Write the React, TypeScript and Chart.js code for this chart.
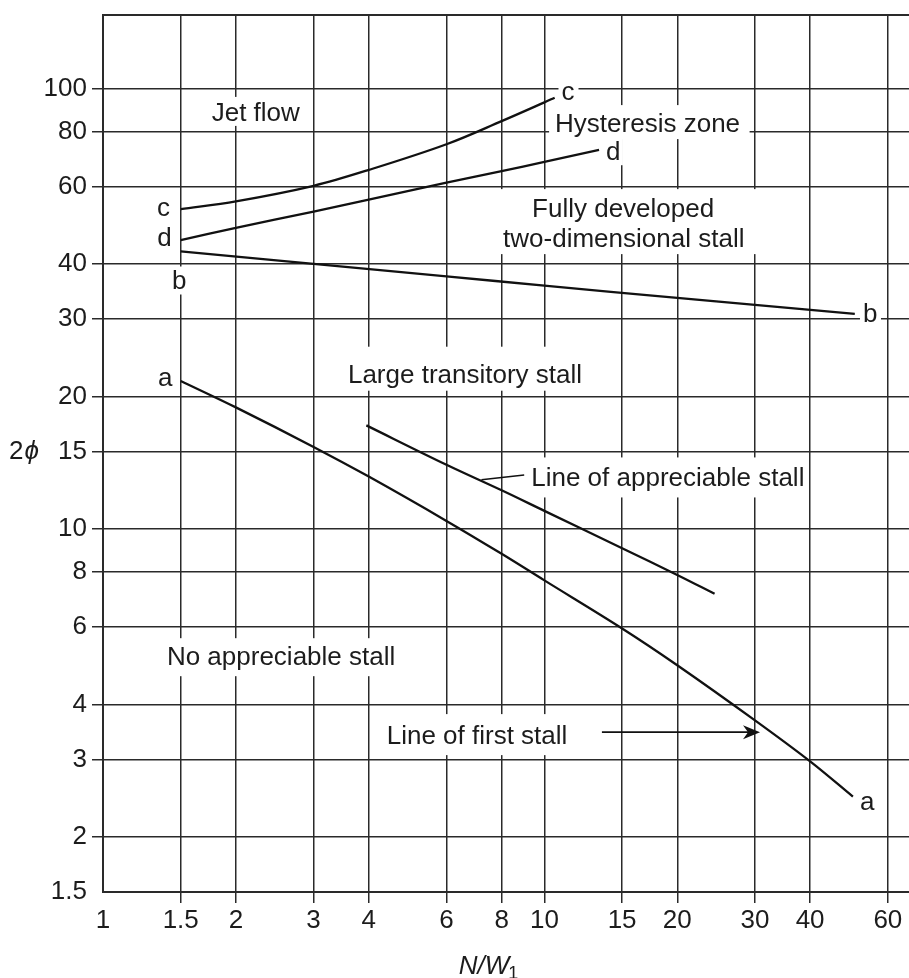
import React, { useEffect, useRef } from 'react';
import { Chart, registerables } from 'chart.js';

Chart.register(...registerables);

// Log-log paper: tick values on both axes
const xTickValues = [1, 1.5, 2, 3, 4, 6, 8, 10, 15, 20, 30, 40, 60];
const yTickValues = [1.5, 2, 3, 4, 6, 8, 10, 15, 20, 30, 40, 60, 80, 100];
const xRange = [1, 67];
const yRange = [1.5, 147];

// Line a-a: line of first stall
const curveAx = [1.5, 2, 3, 4, 6, 8, 10, 15, 20, 30, 40, 50];
const curveAy = [21.7, 18.9, 15.37, 13.16, 10.44, 8.79, 7.65, 5.95, 4.91, 3.68, 2.97, 2.47];
// Line b-b: onset of fully developed two-dimensional stall
const curveBx = [1.5, 3, 6, 10, 20, 30, 50.5];
const curveBy = [42.7, 40.0, 37.5, 35.7, 33.5, 32.3, 30.8];
// Line c-c: upper edge of the hysteresis zone
const curveCx = [1.5, 2, 3, 4, 6, 8, 10, 10.55];
const curveCy = [53.3, 55.5, 60.2, 65.4, 74.8, 84.4, 93.1, 95.4];
// Line d-d: lower edge of the hysteresis zone
const curveDx = [1.5, 2, 3, 4, 6, 8, 10, 13.3];
const curveDy = [45.3, 48.3, 52.6, 56.0, 61.2, 65.0, 68.2, 72.6];
// Line of appreciable stall
const appreciableX = [3.95, 6, 8, 10, 15, 20, 24.3];
const appreciableY = [17.2, 14.0, 12.25, 11.0, 9.05, 7.87, 7.13];

// Leader from the "Line of appreciable stall" caption to its curve
const leaderX = [7.2, 9.0];
const leaderY = [12.95, 13.27];
// Arrow from the "Line of first stall" caption to line a-a
const arrowX = [13.5, 30.8];
const arrowY = [3.46, 3.46];

// Region captions and curve letters: anchor = ink centre (x) and baseline (y), data units
type Note = { text: string; x: number; y: number; pad: number[] };
const LETTER_PAD = [4, 4, 4, 5];
const notes: Note[] = [
  { text: 'Jet flow', x: 2.22, y: 84.5, pad: [6, 6, 5, 5] },
  { text: 'Hysteresis zone', x: 17.2, y: 79.7, pad: [8, 10, 8, 2] },
  { text: 'Fully developed\ntwo-dimensional stall', x: 15.1, y: 51.1, pad: [4, 17, 9, 7] },
  { text: 'Large transitory stall', x: 6.63, y: 21.5, pad: [8, 8, 17, 3] },
  { text: 'Line of appreciable stall', x: 19.1, y: 12.5, pad: [5, 5, 10, 6] },
  { text: 'No appreciable stall', x: 2.54, y: 4.91, pad: [8, 8, 8, 6] },
  { text: 'Line of first stall', x: 7.06, y: 3.25, pad: [8, 8, 11, 11] },
  { text: 'c', x: 1.374, y: 51.3, pad: LETTER_PAD },
  { text: 'd', x: 1.377, y: 44.0, pad: LETTER_PAD },
  { text: 'b', x: 1.49, y: 35.0, pad: LETTER_PAD },
  { text: 'a', x: 1.39, y: 21.1, pad: LETTER_PAD },
  { text: 'c', x: 11.34, y: 94.4, pad: LETTER_PAD },
  { text: 'd', x: 14.3, y: 68.8, pad: LETTER_PAD },
  { text: 'b', x: 54.8, y: 29.5, pad: LETTER_PAD },
  { text: 'a', x: 54.1, y: 2.3, pad: LETTER_PAD },
];

const FONT_FAMILY = '"Liberation Sans", Arial, Helvetica, sans-serif';
const FONT_SIZE = 26;
const LINE_STEP = 30;
const TEXT_COLOR = '#1c1c1c';
const GRID_COLOR = '#2a2a2a';
const CURVE_COLOR = '#111111';

const paperPlugin = {
  id: 'paperAnnotations',
  beforeDatasetsDraw(chart: any) {
    const { ctx, chartArea, scales } = chart;
    const xs = scales.x;
    const ys = scales.y;
    ctx.save();
    // top edge of the frame
    ctx.strokeStyle = GRID_COLOR;
    ctx.lineWidth = 2;
    ctx.beginPath();
    ctx.moveTo(chartArea.left, chartArea.top);
    ctx.lineTo(chartArea.right, chartArea.top);
    ctx.stroke();

    ctx.font = `${FONT_SIZE}px ${FONT_FAMILY}`;
    ctx.textAlign = 'left';
    ctx.textBaseline = 'alphabetic';
    for (const n of notes) {
      const lines = n.text.split('\n');
      const cx = xs.getPixelForValue(n.x);
      const base = ys.getPixelForValue(n.y);
      let l = Infinity, r = -Infinity, t = Infinity, b = -Infinity;
      const placed = lines.map((ln, i) => {
        const m = ctx.measureText(ln);
        const lx = cx - (m.actualBoundingBoxRight - m.actualBoundingBoxLeft) / 2;
        const by = base + i * LINE_STEP;
        l = Math.min(l, lx - m.actualBoundingBoxLeft);
        r = Math.max(r, lx + m.actualBoundingBoxRight);
        t = Math.min(t, by - m.actualBoundingBoxAscent);
        b = Math.max(b, by + m.actualBoundingBoxDescent);
        return { ln, lx, by };
      });
      const [pl, pr, pt, pb] = n.pad;
      ctx.fillStyle = '#ffffff';
      ctx.fillRect(l - pl, t - pt, r - l + pl + pr, b - t + pt + pb);
      ctx.fillStyle = TEXT_COLOR;
      for (const p of placed) ctx.fillText(p.ln, p.lx, p.by);
    }
    ctx.restore();
  },
  afterDatasetsDraw(chart: any) {
    const { ctx, scales } = chart;
    const xs = scales.x;
    const ys = scales.y;
    ctx.save();
    ctx.strokeStyle = CURVE_COLOR;
    ctx.fillStyle = CURVE_COLOR;
    ctx.lineWidth = 1.6;
    // leader line
    ctx.beginPath();
    ctx.moveTo(xs.getPixelForValue(leaderX[0]), ys.getPixelForValue(leaderY[0]));
    ctx.lineTo(xs.getPixelForValue(leaderX[1]), ys.getPixelForValue(leaderY[1]));
    ctx.stroke();
    // arrow
    const ax0 = xs.getPixelForValue(arrowX[0]);
    const ax1 = xs.getPixelForValue(arrowX[1]);
    const ay0 = ys.getPixelForValue(arrowY[0]);
    const ay1 = ys.getPixelForValue(arrowY[1]);
    ctx.beginPath();
    ctx.moveTo(ax0, ay0);
    ctx.lineTo(ax1 - 11, ay1);
    ctx.stroke();
    ctx.beginPath();
    ctx.moveTo(ax1, ay1);
    ctx.lineTo(ax1 - 17, ay1 - 7);
    ctx.lineTo(ax1 - 12, ay1);
    ctx.lineTo(ax1 - 17, ay1 + 7);
    ctx.closePath();
    ctx.fill();
    ctx.restore();
  },
  afterDraw(chart: any) {
    const { ctx, chartArea, scales } = chart;
    const xs = scales.x;
    const ys = scales.y;
    ctx.save();
    ctx.fillStyle = TEXT_COLOR;
    ctx.textBaseline = 'middle';
    ctx.textAlign = 'left';
    // vertical axis title: 2ϕ
    const yt = ys.getPixelForValue(15);
    ctx.font = `${FONT_SIZE}px ${FONT_FAMILY}`;
    ctx.fillText('2', 9, yt);
    const w2 = ctx.measureText('2').width;
    ctx.font = `italic ${FONT_SIZE}px ${FONT_FAMILY}`;
    ctx.fillText('ϕ', 9 + w2 + 1, yt);
    // horizontal axis title: N/W1
    ctx.textBaseline = 'alphabetic';
    ctx.font = `italic ${FONT_SIZE}px ${FONT_FAMILY}`;
    const main = 'N/W';
    const wm = ctx.measureText(main).width;
    ctx.font = `18px ${FONT_FAMILY}`;
    const ws = ctx.measureText('1').width;
    const left = xs.getPixelForValue(7.49) - (wm + ws) / 2;
    const base = chartArea.bottom + 81.5;
    ctx.font = `italic ${FONT_SIZE}px ${FONT_FAMILY}`;
    ctx.fillText(main, left, base);
    ctx.font = `18px ${FONT_FAMILY}`;
    ctx.fillText('1', left + wm - 1, base + 5);
    ctx.restore();
  },
};

function axisTickColor(hidden: number) {
  return (c: any) => (c.tick && c.tick.value === hidden ? 'rgba(0,0,0,0)' : GRID_COLOR);
}

export default function App() {
  const ref = useRef<HTMLCanvasElement>(null);

  useEffect(() => {
    document.body.style.margin = '0';
    const canvas = ref.current;
    if (!canvas) return;
    const series = [
      [curveAx, curveAy],
      [curveBx, curveBy],
      [curveCx, curveCy],
      [curveDx, curveDy],
      [appreciableX, appreciableY],
    ];
    const tickFont = { family: FONT_FAMILY, size: FONT_SIZE };
    const chart = new Chart(canvas, {
      type: 'line',
      data: {
        datasets: series.map(([xs, ys]) => ({
          data: xs.map((x, i) => ({ x, y: ys[i] })),
          borderColor: CURVE_COLOR,
          borderWidth: 2.3,
          pointRadius: 0,
          fill: false,
          tension: 0.35,
        })),
      },
      options: {
        animation: false,
        responsive: false,
        maintainAspectRatio: false,
        layout: { padding: { top: 15, right: 0, bottom: 0, left: 0 } },
        plugins: { legend: { display: false }, tooltip: { enabled: false } },
        scales: {
          x: {
            type: 'logarithmic',
            min: xRange[0],
            max: xRange[1],
            afterBuildTicks: (s: any) => {
              s.ticks = xTickValues.map((v) => ({ value: v }));
            },
            afterFit: (s: any) => {
              s.height = 86;
              s.paddingLeft = 0;
              s.paddingRight = 0;
            },
            grid: {
              color: GRID_COLOR,
              lineWidth: 1.5,
              tickLength: 11,
              tickWidth: 1.5,
              tickColor: axisTickColor(1),
            },
            border: { display: true, color: GRID_COLOR, width: 2 },
            ticks: {
              autoSkip: false,
              maxRotation: 0,
              minRotation: 0,
              padding: 2,
              color: TEXT_COLOR,
              font: tickFont,
              callback: (v: any) => String(v),
            },
          },
          y: {
            type: 'logarithmic',
            min: yRange[0],
            max: yRange[1],
            afterBuildTicks: (s: any) => {
              s.ticks = yTickValues.map((v) => ({ value: v }));
            },
            afterFit: (s: any) => {
              s.width = 103;
              s.paddingTop = 0;
              s.paddingBottom = 0;
            },
            grid: {
              color: GRID_COLOR,
              lineWidth: 1.5,
              tickLength: 11,
              tickWidth: 1.5,
              tickColor: axisTickColor(1.5),
            },
            border: { display: true, color: GRID_COLOR, width: 2 },
            ticks: {
              autoSkip: false,
              padding: 5,
              color: TEXT_COLOR,
              font: tickFont,
              callback: (v: any) => String(v),
            },
          },
        },
      } as any,
      plugins: [paperPlugin],
    });
    return () => chart.destroy();
  }, []);

  return <canvas ref={ref} width={909} height={978} style={{ display: 'block' }} />;
}
